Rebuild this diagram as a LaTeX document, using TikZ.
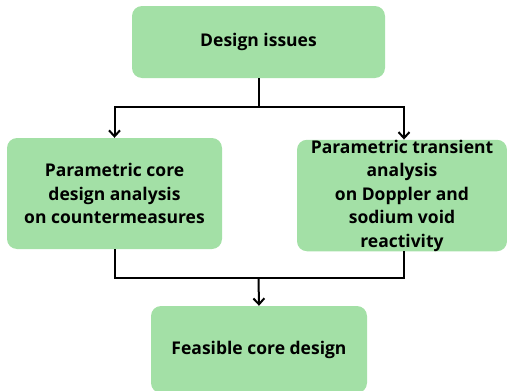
\documentclass[tikz,border=0pt]{standalone}
\usepackage{fontspec}
\setmainfont{Open Sans}[BoldFont={Open Sans Bold}]
\usetikzlibrary{arrows.meta}

\definecolor{boxgreen}{RGB}{163,224,166}

\begin{document}
\begin{tikzpicture}[x=1pt,y=1pt,yscale=-1,xscale=1,
  stage/.style={fill=boxgreen, rounded corners=10pt, align=center, inner sep=0pt,
    font=\bfseries\fontsize{17.5}{23.5}\selectfont},
  link/.style={line width=2pt},
  flow/.style={link, -{Straight Barb[length=6pt,width=11pt]}}]
\useasboundingbox (0,0) rectangle (507,391);

% Rounded Rect
\node[stage, minimum width=253, minimum height=72] (issues) at (258.5,42) {Design issues};
% Rounded Rect
\node[stage, minimum width=215, minimum height=111] (core) at (114.5,193.5)
  {Parametric core\\design analysis\\on countermeasures};
% Rounded Rect
\node[stage, minimum width=210, minimum height=111] (transient) at (402,195.5)
  {Parametric transient\\analysis\\on Doppler and\\sodium void\\reactivity};
% Rounded Rect
\node[stage, minimum width=216, minimum height=87] (feasible) at (259,349.5) {Feasible core design};

% Connectors
\coordinate (split) at (258.5,107);
\coordinate (merge) at (258.5,278);
\draw[link] (issues.south) -- (split);
\draw[flow] (split) -| (core.north);
\draw[flow] (split) -| ([xshift=2pt]transient.north);
\draw[link] (core.south) |- (merge) -| ([xshift=2pt]transient.south);
\draw[flow] (merge) -- (feasible.north);

\end{tikzpicture}
\end{document}
